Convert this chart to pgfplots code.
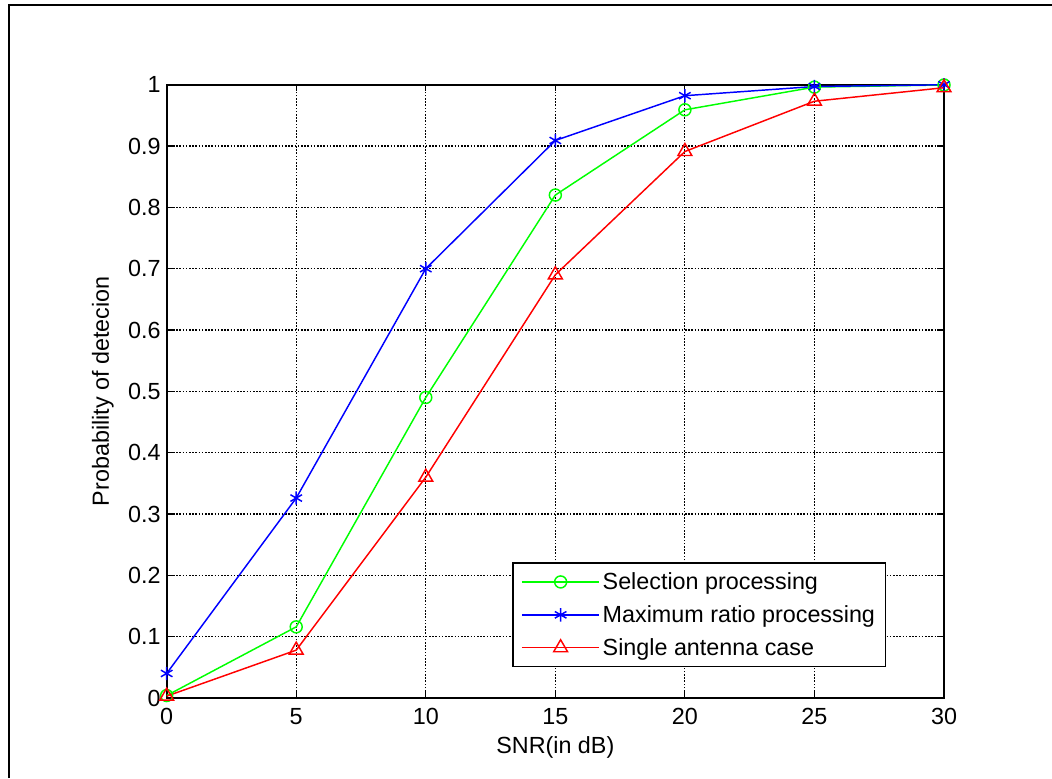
\documentclass[border=0pt]{standalone}
\usepackage{fontspec}
\setmainfont{Liberation Sans}
\usepackage{pgfplots}
\pgfplotsset{compat=1.18}

\begin{document}
\begin{tikzpicture}
% page area: 1052 x 778 px at 0.75pt/px, axis box lower left at origin
\path[use as bounding box] (-125pt,-60pt) rectangle (664pt,523.5pt);
\draw[line width=1.5pt] (-117.9pt,-60pt) -- (-117.9pt,519.75pt) -- (664pt,519.75pt);

\begin{axis}[
    scale only axis,
    width=583pt,
    height=460pt,
    xmin=0, xmax=30,
    ymin=0, ymax=1,
    xtick={0,5,...,30},
    ytick={0,0.1,...,1},
    yticklabels={0,0.1,0.2,0.3,0.4,0.5,0.6,0.7,0.8,0.9,1},
    tick align=inside,
    tick pos=both,
    major tick length=5pt,
    every tick/.style={black, line width=0.8pt},
    axis line style={line width=1.5pt},
    grid=major,
    major grid style={black, line width=0.8pt, dash pattern=on 1.2pt off 1.2pt},
    tick label style={font=\fontsize{17.5}{20}\selectfont},
    /pgf/number format/assume math mode=true,
    xticklabel style={yshift=-4pt},
    yticklabel style={xshift=-1pt},
    label style={font=\fontsize{17.5}{20}\selectfont},
    xlabel={SNR(in dB)},
    ylabel={Probability of detecion},
    xlabel style={yshift=-2pt},
    ylabel style={yshift=4pt},
    legend cell align=left,
    legend style={
        at={(rel axis cs:0.926,0.05)}, anchor=south east,
        draw=black, line width=1.2pt,
        font=\fontsize{17.5}{20}\selectfont,
        row sep=6.5pt, inner xsep=6pt, inner ysep=5pt,
        nodes={inner sep=2pt},
    },
    legend image code/.code={
        \draw[mark repeat=2, mark phase=2, line width=1.1pt]
            plot coordinates {(0pt,0pt) (29pt,0pt) (58pt,0pt)};
    },
    every axis plot/.append style={line width=1.1pt},
]

% Selection processing
\addplot[color={rgb,255:red,0;green,255;blue,0}, mark=o, mark size=4.5pt,
    mark options={solid, line width=1.1pt}]
coordinates {(0,0.004) (5,0.116) (10,0.490) (15,0.820) (20,0.959) (25,0.996) (30,0.9995)};
\addlegendentry{Selection processing}

% Maximum ratio processing
\addplot[color={rgb,255:red,0;green,0;blue,255}, mark=asterisk, mark size=5pt,
    mark options={solid, line width=1.1pt}]
coordinates {(0,0.040) (5,0.326) (10,0.700) (15,0.909) (20,0.982) (25,0.997) (30,0.9998)};
\addlegendentry{Maximum ratio processing}

% Single antenna case
\addplot[color={rgb,255:red,255;green,0;blue,0}, mark=triangle, mark size=6pt,
    mark options={solid, line width=1.1pt}]
coordinates {(0,0.003) (5,0.078) (10,0.360) (15,0.690) (20,0.891) (25,0.973) (30,0.995)};
\addlegendentry{Single antenna case}

\end{axis}
\end{tikzpicture}
\end{document}
